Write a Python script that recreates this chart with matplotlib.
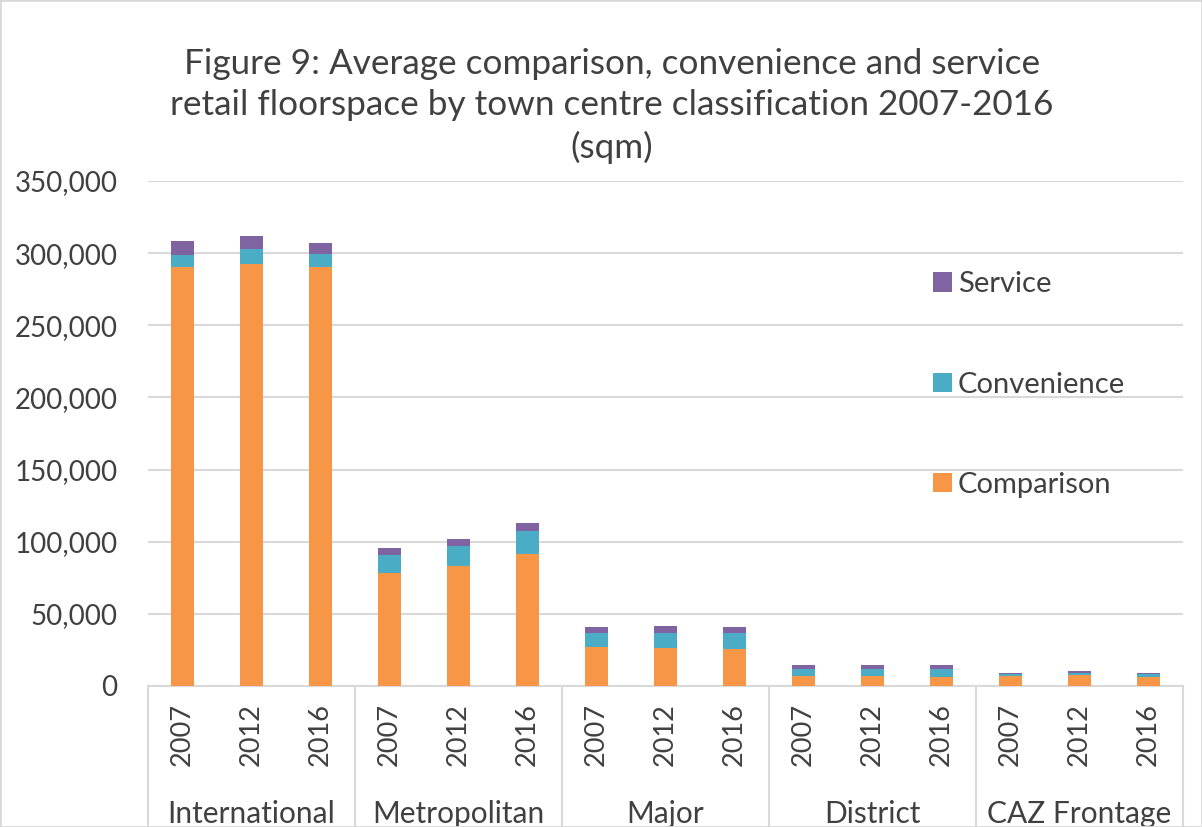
import matplotlib.pyplot as plt
import matplotlib.transforms as mtransforms
from matplotlib.patches import Rectangle
import numpy as np

# data (sqm)
groups = ["International", "Metropolitan", "Major", "District", "CAZ Frontage"]
years = ["2007", "2012", "2016"]
comparison = [290200, 292700, 290400, 78300, 83400, 91500, 26800, 26300, 25400,
              6900, 6900, 6200, 7100, 7600, 6200]
convenience = [8500, 9900, 9000, 12500, 13400, 15700, 10100, 10600, 11000,
               4600, 4600, 5300, 1400, 1600, 1900]
service = [9700, 9000, 7400, 4600, 5100, 5800, 4200, 4700, 4700,
           3000, 3000, 3000, 500, 1200, 900]

plt.rcParams['font.family'] = ['Lato', 'DejaVu Sans']
txt = '#404040'

fig = plt.figure(figsize=(12.02, 8.27), dpi=100)
ax = fig.add_axes([148/1202, 1 - 686/827, (1183-148)/1202, (686-181)/827])

x = np.arange(len(comparison))
w = 0.32
comp = np.array(comparison)
conv = np.array(convenience)
serv = np.array(service)
ax.bar(x, comp, w, color='#F79646', label='Comparison', zorder=3)
ax.bar(x, conv, w, bottom=comp, color='#4BACC6', label='Convenience', zorder=3)
ax.bar(x, serv, w, bottom=comp + conv, color='#8064A2', label='Service', zorder=3)

ax.set_xlim(-0.5, len(x) - 0.5)
ax.set_ylim(0, 350000)
ax.set_yticks(range(0, 350001, 50000))
ax.set_yticklabels([f"{v:,}" for v in range(0, 350001, 50000)])
ax.yaxis.grid(True, color='#D9D9D9', linewidth=1.5, zorder=0)
ax.tick_params(axis='y', length=0, pad=22, labelsize=20, labelcolor=txt)

ax.set_xticks(x)
ax.set_xticklabels(years * len(groups), rotation=90)
ax.tick_params(axis='x', length=0, pad=12, labelsize=19.5, labelcolor=txt)

for s in ['left', 'right', 'top']:
    ax.spines[s].set_visible(False)
ax.spines['bottom'].set_color('#D9D9D9')
ax.spines['bottom'].set_linewidth(1.5)

# category separators below the axis
trans = mtransforms.blended_transform_factory(ax.transData, fig.transFigure)
bottom = 1 - 686/827
for b in np.arange(-0.5, len(x), 3):
    ax.plot([b, b], [0, bottom], color='#D9D9D9', lw=1.5, transform=trans, clip_on=False)
for i, g in enumerate(groups):
    ax.text(i*3 + 1, 1 - 814/827, g, transform=trans, ha='center', va='center',
            fontsize=21.5, color=txt)

fig.text(0.509, 1 - 106/827,
         "Figure 9: Average comparison, convenience and service\n"
         "retail floorspace by town centre classification 2007-2016\n(sqm)",
         ha='center', va='center', fontsize=25.3, color=txt, linespacing=1.36)

h, l = ax.get_legend_handles_labels()
ax.legend(h[::-1], l[::-1], loc='upper left',
          bbox_to_anchor=((907 - 148)/1035, (686 - 245)/505),
          frameon=False, fontsize=21, labelspacing=2.55, handlelength=0.65, handleheight=0.65,
          handletextpad=0.2, labelcolor=txt)

fig.patches.append(Rectangle((0, 0), 1, 1, transform=fig.transFigure, fill=False,
                             edgecolor='#D9D9D9', lw=2))

fig.savefig('out.png', dpi=100)
